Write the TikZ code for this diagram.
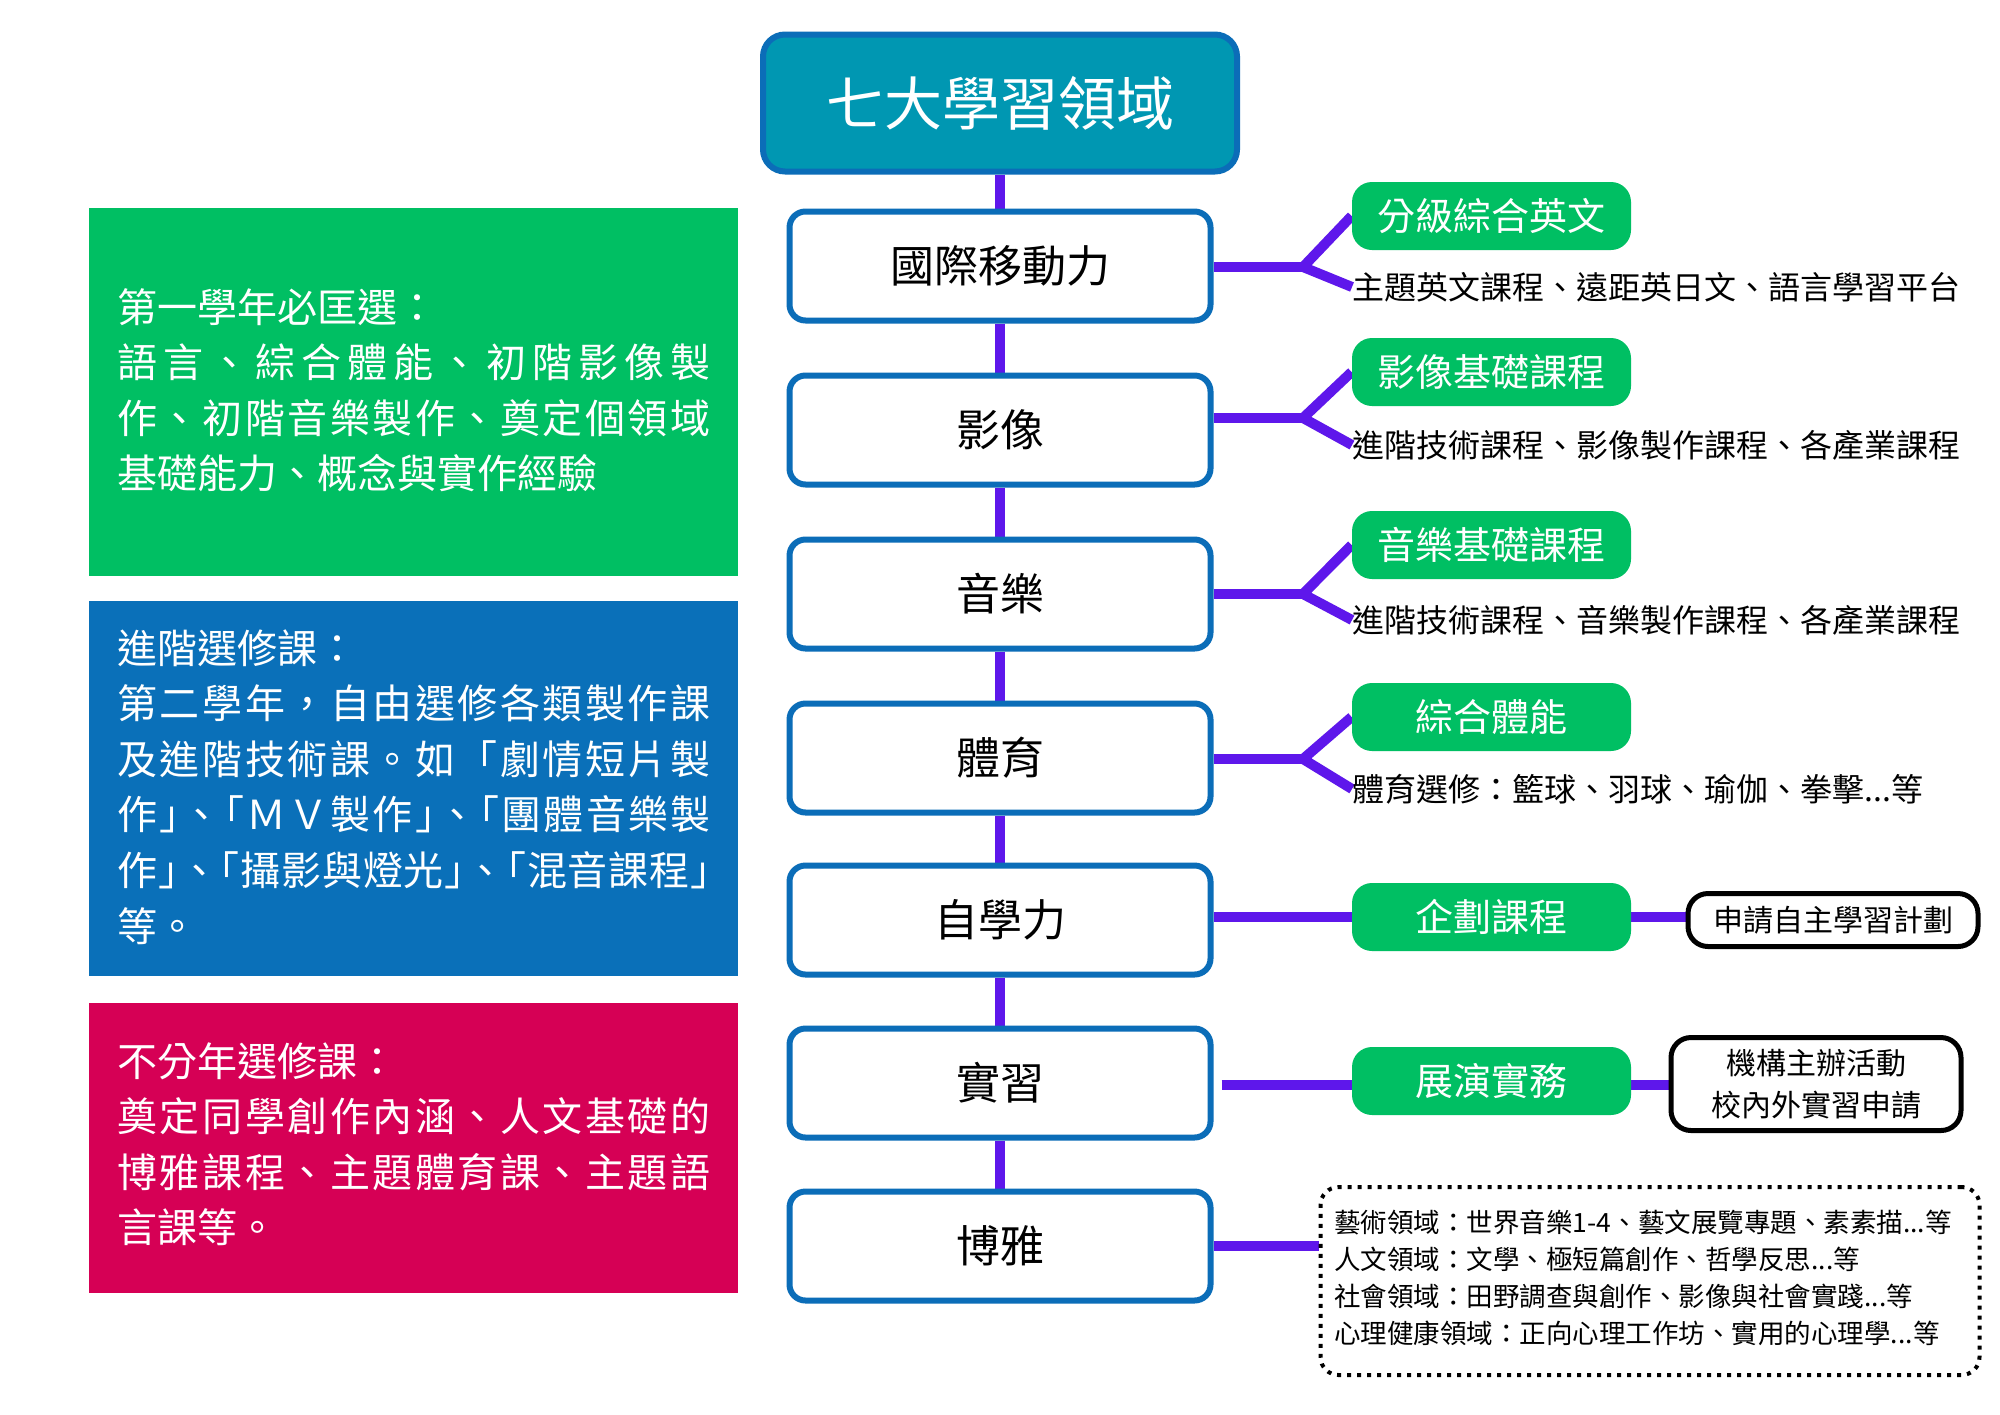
\documentclass[tikz,border=0pt]{standalone}
\usepackage{fontspec}
\setmainfont{Noto Sans CJK TC}
\newfontfamily\haltfont[RawFeature=+halt]{Noto Sans CJK TC}
\usetikzlibrary{calc,backgrounds}
\definecolor{ctitle}{HTML}{0097B2}
\definecolor{cblue}{HTML}{0B6DB8}
\definecolor{cpanelblue}{HTML}{0A70B9}
\definecolor{cpurple}{HTML}{5E17EB}
\definecolor{cgreen}{HTML}{00BF63}
\definecolor{cred}{HTML}{D60055}
\def\jglue{\hskip 0pt plus 1fil minus 2.5pt}
\def\jsp#1{#1\jspa}
\def\jspa#1{\ifx\relax#1\else\jglue#1\expandafter\jspa\fi}
\newcommand\jline[1]{\hbox to 296.5pt{\jsp#1\relax}}
\newcommand\nline[1]{\hbox{#1}}
\newcommand\LQ{{\haltfont 「}}
\newcommand\RQ{{\haltfont 」}}
\begin{document}
\begin{tikzpicture}[x=0.5pt,y=-0.5pt,
  titlebox/.style={draw=cblue, line width=3pt, fill=ctitle, rounded corners=11pt, minimum width=237pt, minimum height=68.5pt, inner sep=0pt, text=white, font=\fontsize{29pt}{34pt}\selectfont},
  lvl/.style={draw=cblue, line width=3pt, fill=white, rounded corners=8pt, minimum width=210.5pt, minimum height=54.5pt, inner sep=0pt, font=\fontsize{22pt}{26pt}\selectfont},
  pill/.style={fill=cgreen, rounded corners=10pt, minimum width=139.5pt, minimum height=34pt, inner sep=0pt, text=white, font=\fontsize{19pt}{22pt}\selectfont},
  desc/.style={anchor=west, inner sep=0pt, font=\fontsize{16pt}{19pt}\selectfont},
  conn/.style={draw=cpurple, line width=5pt},
  panel/.style={minimum width=324.5pt, inner sep=0pt},
  paneltext/.style={anchor=base west, inner sep=0pt, text=white, font=\fontsize{20pt}{27.8pt}\selectfont},
  blackbox/.style={draw=black, line width=2.5pt, fill=white, rounded corners=10pt, minimum width=145pt, inner sep=0pt, font=\fontsize{15pt}{21pt}\selectfont, align=center},
  dotbox/.style={draw=black, line width=2pt, dash pattern=on 2pt off 3pt, rounded corners=9pt, minimum width=329.5pt, minimum height=94pt, inner sep=0pt},
  smalltext/.style={anchor=base west, inner sep=0pt, font=\fontsize{13.25pt}{18.5pt}\selectfont}
]
\useasboundingbox (0,0) rectangle (2000,1414);

% left panels
\node[panel, fill=cgreen, minimum height=184pt] (gp) at (413.5,392) {};
\node[panel, fill=cpanelblue, minimum height=187.5pt] (bp) at (413.5,788) {};
\node[panel, fill=cred, minimum height=145pt] (rp) at (413.5,1147.5) {};
\node[paneltext] (gt) at (117,322) {\vtop{\baselineskip=27.8pt
  \nline{第一學年必匡選：}
  \jline{語言、綜合體能、初階影像製}
  \jline{作、初階音樂製作、奠定個領域}
  \nline{基礎能力、概念與實作經驗}}};
\node[paneltext] (bt) at (117,663) {\vtop{\baselineskip=27.8pt
  \nline{進階選修課：}
  \jline{第二學年，自由選修各類製作課}
  \jline{及進階技術課。如「劇情短片製}
  \jline{作\RQ 、\LQ ＭＶ製作\RQ 、\LQ 團體音樂製}
  \jline{作\RQ 、\LQ 攝影與燈光\RQ 、\LQ 混音課程\RQ}
  \nline{等。}}};
\node[paneltext] (rt) at (117,1076) {\vtop{\baselineskip=27.8pt
  \nline{不分年選修課：}
  \jline{奠定同學創作內涵、人文基礎的}
  \jline{博雅課程、主題體育課、主題語}
  \nline{言課等。}}};

% central column
\node[titlebox] (title) at (1000,103) {七大學習領域};
\node[lvl] (b1) at (1000,266) {國際移動力};
\node[lvl] (b2) at (1000,430) {影像};
\node[lvl] (b3) at (1000,594) {音樂};
\node[lvl] (b4) at (1000,758) {體育};
\node[lvl] (b5) at (1000,920) {自學力};
\node[lvl] (b6) at (1000,1083) {實習};
\node[lvl] (b7) at (1000,1246) {博雅};

% pills
\node[pill] (p1) at (1491.5,216) {分級綜合英文};
\node[pill] (p2) at (1491.5,372) {影像基礎課程};
\node[pill] (p3) at (1491.5,545) {音樂基礎課程};
\node[pill] (p4) at (1491.5,717) {綜合體能};
\node[pill] (p5) at (1491.5,917) {企劃課程};
\node[pill] (p6) at (1491.5,1081) {展演實務};

% descriptions
\node[desc] (t1) at (1352,287) {主題英文課程、遠距英日文、語言學習平台};
\node[desc] (t2) at (1352,445) {進階技術課程、影像製作課程、各產業課程};
\node[desc] (t3) at (1352,620) {進階技術課程、音樂製作課程、各產業課程};
\node[desc] (t4) at (1352,789) {體育選修：籃球、羽球、瑜伽、拳擊...等};

\coordinate (j1) at (1303,267);
\coordinate (j2) at (1303,418);
\coordinate (j3) at (1303,594);
\coordinate (j4) at (1303,759);

% right boxes
\node[blackbox, minimum height=26.5pt] (s1) at (1833,920) {申請自主學習計劃};
\node[blackbox, minimum height=46.5pt] (s2) at (1816,1084) {機構主辦活動\\校內外實習申請};
\node[dotbox] (d) at (1650,1281) {};
\node[smalltext] (dt) at (1334,1232) {\vtop{\baselineskip=18.5pt
  \nline{藝術領域：世界音樂1-4、藝文展覽專題、素素描...等}
  \nline{人文領域：文學、極短篇創作、哲學反思...等}
  \nline{社會領域：田野調查與創作、影像與社會實踐...等}
  \nline{心理健康領域：正向心理工作坊、實用的心理學...等}}};

\begin{pgfonlayer}{background}
\fill[white] (0,0) rectangle (2000,1414);
\draw[conn] (title.south) -- (b1.north);
\draw[conn] (b1.south) -- (b2.north);
\draw[conn] (b2.south) -- (b3.north);
\draw[conn] (b3.south) -- (b4.north);
\draw[conn] (b4.south) -- (b5.north);
\draw[conn] (b5.south) -- (b6.north);
\draw[conn] (b6.south) -- (b7.north);
\draw[conn] (b1.east |- j1) -- (j1);
\draw[conn, line join=miter] (p1.west) -- (j1) -- (t1.west);
\draw[conn] (b2.east |- j2) -- (j2);
\draw[conn, line join=miter] (p2.west) -- (j2) -- (t2.west);
\draw[conn] (b3.east |- j3) -- (j3);
\draw[conn, line join=miter] (p3.west) -- (j3) -- (t3.west);
\draw[conn] (b4.east |- j4) -- (j4);
\draw[conn, line join=miter] (p4.west) -- (j4) -- (t4.west);
\draw[conn] (b5.east |- p5.west) -- (p5.west);
\draw[conn] (p5.east) -- (p5.east -| s1.west);
\draw[conn] ($(b6.east |- p6.west)+(8,4)$) -- ($(p6.west)+(0,4)$);
\draw[conn] ($(p6.east)+(0,4)$) -- ($(p6.east -| s2.west)+(0,4)$);
\draw[conn] (b7.east) -- (b7.east -| d.west);
\end{pgfonlayer}
\end{tikzpicture}
\end{document}
